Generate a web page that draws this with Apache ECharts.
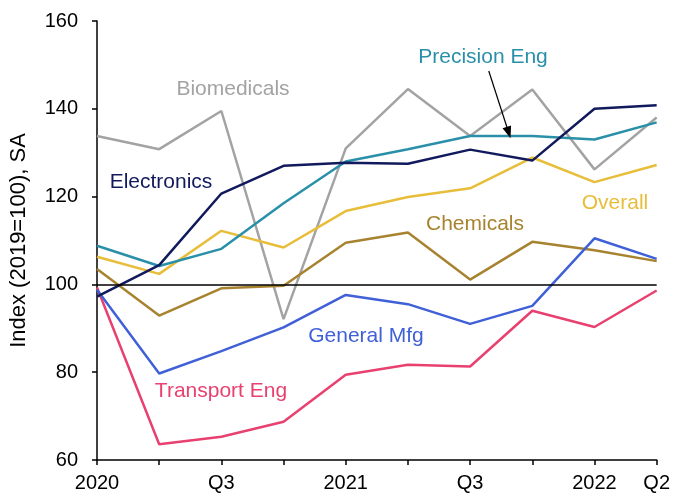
<!DOCTYPE html>
<html>
<head>
<meta charset="utf-8">
<script src="https://cdn.jsdelivr.net/npm/echarts@6/dist/echarts.min.js"></script>
<style>
  html, body { margin: 0; padding: 0; background: #fff; }
  #main { width: 673px; height: 496px; }
</style>
</head>
<body>
<div id="main"></div>
<script>
// quarters 2020 Q1 .. 2022 Q2
var quarters = ['2020Q1', '2020Q2', '2020Q3', '2020Q4', '2021Q1', '2021Q2', '2021Q3', '2021Q4', '2022Q1', '2022Q2'];
var tickLabels = ['2020', '', 'Q3', '', '2021', '', 'Q3', '', '2022', 'Q2'];

var biomedicals = [133.8, 130.8, 139.5, 92.1, 131.0, 144.5, 133.8, 144.4, 126.2, 138.0];
var electronics = [97.2, 104.4, 120.7, 127.0, 127.7, 127.5, 130.7, 128.2, 140.0, 140.8];
var precisionEng = [108.8, 104.2, 108.1, 118.5, 128.0, 130.8, 133.8, 133.8, 133.0, 136.9];
var overall = [106.3, 102.4, 112.2, 108.4, 116.7, 119.9, 121.9, 128.9, 123.3, 127.2];
var chemicals = [103.5, 92.9, 99.1, 99.7, 109.5, 111.8, 101.1, 109.7, 107.8, 105.3];
var generalMfg = [98.8, 79.7, 84.8, 90.2, 97.6, 95.5, 91.0, 95.1, 110.5, 105.8];
var transportEng = [99.3, 63.6, 65.3, 68.7, 79.4, 81.7, 81.3, 94.0, 90.3, 98.6];

// arrow from the "Precision Eng" label to its line (x in quarter index units)
var arrowFrom = [6.3, 148.6];
var arrowTo = [6.62, 134.6];

(function () {
    var dom = document.getElementById("main");
    var myChart = echarts.init(dom);
    var font = 'Liberation Sans, Arial, sans-serif';

    function line(name, data, color) {
        return {
            name: name,
            type: 'line',
            data: data,
            symbol: 'none',
            lineStyle: { color: color, width: 2.5 },
            itemStyle: { color: color },
            animation: false
        };
    }

    function label(text, x, y, color) {
        return {
            type: 'text',
            x: x,
            y: y,
            style: {
                text: text,
                fill: color,
                font: '21px ' + font,
                textAlign: 'center',
                textVerticalAlign: 'middle'
            }
        };
    }

    var series = [
        line('Biomedicals', biomedicals, '#a3a3a3'),
        line('Chemicals', chemicals, '#a8832f'),
        line('Transport Eng', transportEng, '#e8416f'),
        line('General Mfg', generalMfg, '#4060d8'),
        line('Overall', overall, '#e8bd3a'),
        line('Precision Eng', precisionEng, '#2a90a9'),
        line('Electronics', electronics, '#111a5c')
    ];
    // reference line at 100
    series[0].markLine = {
        silent: true,
        symbol: 'none',
        label: { show: false },
        lineStyle: { color: '#000', width: 1.5, type: 'solid' },
        data: [{ yAxis: 100 }]
    };
    // invisible helper series on a value x axis, carrying the arrow
    series.push({
        name: 'arrow',
        type: 'line',
        xAxisIndex: 1,
        data: [arrowFrom, arrowTo],
        symbol: 'none',
        lineStyle: { opacity: 0 },
        silent: true,
        markLine: {
            silent: true,
            symbol: ['none', 'triangle'],
            symbolSize: [9, 12],
            label: { show: false },
            lineStyle: { color: '#000', width: 1.2, type: 'solid' },
            data: [[{ coord: arrowFrom }, { coord: arrowTo }]]
        }
    });

    var option = {
        animation: false,
        grid: { left: 97, right: 14, top: 21, bottom: 36 },
        xAxis: [{
            type: 'category',
            data: quarters,
            boundaryGap: false,
            axisLine: { lineStyle: { color: '#000', width: 1.5 } },
            axisTick: { show: true, length: 5, interval: 0, lineStyle: { color: '#000', width: 1.5 } },
            axisLabel: {
                interval: 0,
                color: '#000',
                fontSize: 20,
                fontFamily: font,
                margin: 13,
                formatter: function (v, i) { return tickLabels[i]; }
            }
        }, {
            type: 'value',
            min: 0,
            max: quarters.length - 1,
            show: false
        }],
        yAxis: {
            type: 'value',
            min: 60,
            max: 160,
            interval: 20,
            name: 'Index (2019=100), SA',
            nameLocation: 'middle',
            nameGap: 67,
            nameTextStyle: { color: '#000', fontSize: 22, fontFamily: font },
            splitLine: { show: false },
            axisLine: { show: true, lineStyle: { color: '#000', width: 1.5 } },
            axisTick: { show: true, length: 5, lineStyle: { color: '#000', width: 1.5 } },
            axisLabel: { color: '#000', fontSize: 20, fontFamily: font, margin: 19 }
        },
        graphic: [
            label('Biomedicals', 233, 89, '#a3a3a3'),
            label('Electronics', 161, 182, '#111a5c'),
            label('Precision Eng', 483, 57, '#2a90a9'),
            label('Overall', 615, 203, '#e8bd3a'),
            label('Chemicals', 475, 224, '#a8832f'),
            label('General Mfg', 366, 336, '#4060d8'),
            label('Transport Eng', 221, 391, '#e8416f')
        ],
        series: series
    };
    myChart.setOption(option, true);
})();
</script>
</body>
</html>
